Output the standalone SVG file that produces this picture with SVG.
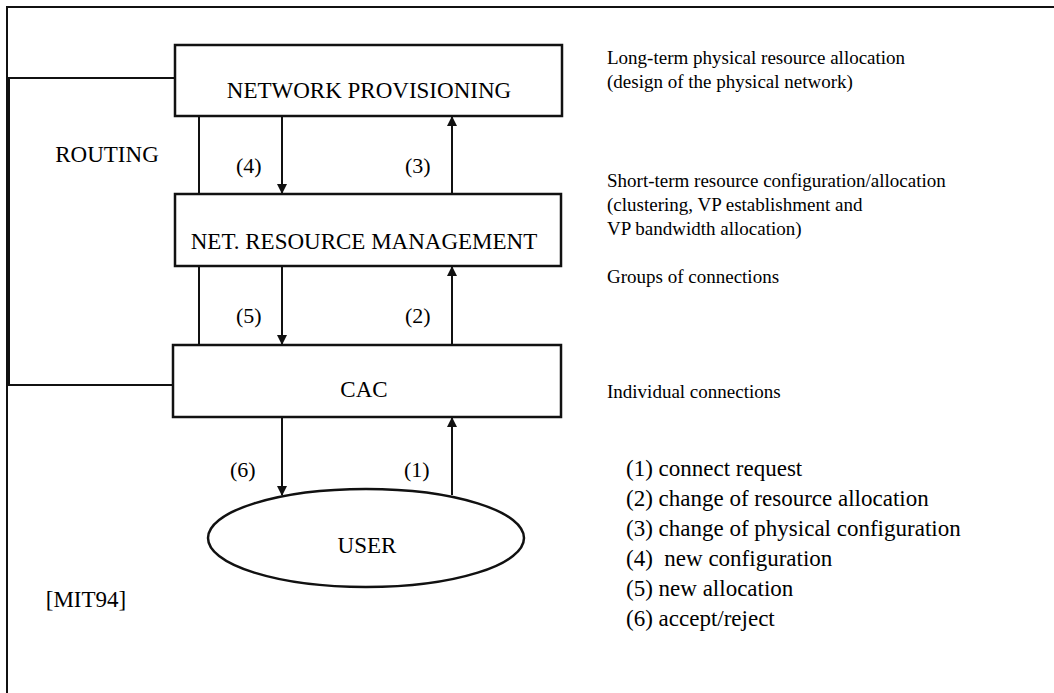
<svg xmlns="http://www.w3.org/2000/svg" width="1054" height="693" viewBox="0 0 1054 693">
<style>
text{font-family:"Liberation Serif","Times New Roman",serif;fill:#000}
.box{fill:#fff;stroke:#111;stroke-width:2.5}
.lbl{font-size:23px;text-anchor:middle}
.num{font-size:22px}
.note{font-size:19px}
.list{font-size:23px}
.ln{stroke:#111;stroke-width:2;fill:none}
.arr{stroke:#111;stroke-width:2;fill:none;marker-end:url(#ah)}
</style>
<defs>
<marker id="ah" markerWidth="10" markerHeight="12" refX="9" refY="5" orient="auto" markerUnits="userSpaceOnUse">
<path d="M0,0 L10,5 L0,10 Z" fill="#111"/>
</marker>
</defs>
<rect width="1054" height="693" fill="#fff"/>
<g id="frame">
<path d="M7,693 V7 H1054" fill="none" stroke="#111" stroke-width="2"/>
</g>
<g id="connectors">
<path class="ln" d="M175,78 H9 V385 H173" stroke-width="2.5"/>
<line class="ln" x1="199" y1="116" x2="199" y2="194"/>
<line class="ln" x1="199" y1="266" x2="199" y2="345"/>
<line class="arr" x1="282" y1="117" x2="282" y2="193"/>
<line class="arr" x1="452" y1="193" x2="452" y2="117"/>
<line class="arr" x1="282" y1="267" x2="282" y2="344"/>
<line class="arr" x1="452" y1="344" x2="452" y2="267"/>
<line class="arr" x1="282" y1="418" x2="282" y2="495"/>
<line class="arr" x1="452" y1="495" x2="452" y2="418"/>
<text class="num" x="236" y="173">(4)</text>
<text class="num" x="405" y="173">(3)</text>
<text class="num" x="236" y="323">(5)</text>
<text class="num" x="405" y="323">(2)</text>
<text class="num" x="230" y="477">(6)</text>
<text class="num" x="404" y="477">(1)</text>
</g>
<g id="network-provisioning">
<rect class="box" x="175" y="45" width="387" height="71"/>
<text class="lbl" x="369" y="98">NETWORK PROVISIONING</text>
</g>
<g id="net-resource-management">
<rect class="box" x="175" y="194" width="386" height="72"/>
<text class="lbl" x="364" y="249">NET. RESOURCE MANAGEMENT</text>
</g>
<g id="cac">
<rect class="box" x="173" y="345" width="388" height="72"/>
<text class="lbl" x="364" y="397">CAC</text>
</g>
<g id="user">
<ellipse cx="366" cy="538" rx="158" ry="49" fill="#fff" stroke="#111" stroke-width="2.5"/>
<text class="lbl" x="367" y="553">USER</text>
</g>
<g id="labels">
<text class="lbl" x="107" y="162">ROUTING</text>
<text class="lbl" x="86" y="607">[MIT94]</text>
<text class="note" x="607" y="64">Long-term physical resource allocation</text>
<text class="note" x="607" y="88">(design of the physical network)</text>
<text class="note" x="607" y="187">Short-term resource configuration/allocation</text>
<text class="note" x="607" y="211">(clustering, VP establishment and</text>
<text class="note" x="607" y="235">VP bandwidth allocation)</text>
<text class="note" x="607" y="283">Groups of connections</text>
<text class="note" x="607" y="398">Individual connections</text>
<text class="list" x="626" y="476">(1) connect request</text>
<text class="list" x="626" y="506">(2) change of resource allocation</text>
<text class="list" x="626" y="536">(3) change of physical configuration</text>
<text class="list" x="626" y="566" xml:space="preserve">(4)  new configuration</text>
<text class="list" x="626" y="596">(5) new allocation</text>
<text class="list" x="626" y="626">(6) accept/reject</text>
</g>
</svg>
